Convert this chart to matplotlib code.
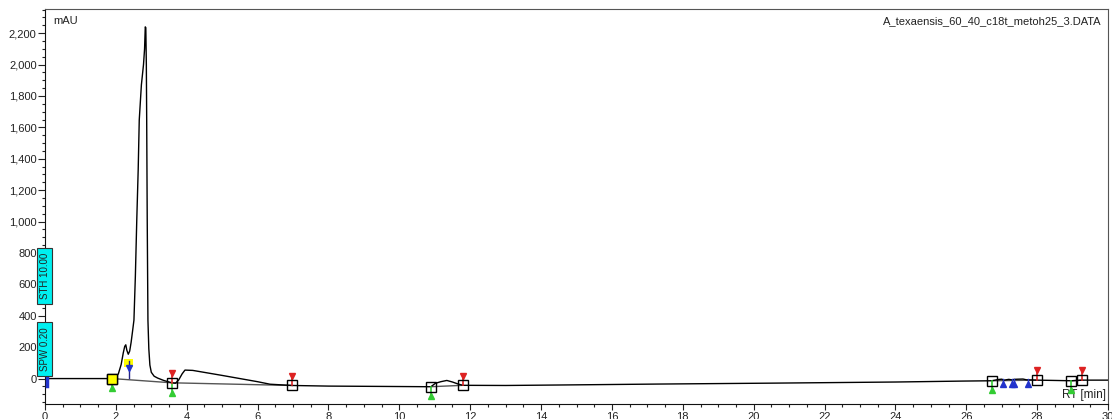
import matplotlib
matplotlib.use("Agg")
import matplotlib.pyplot as plt
from matplotlib.patches import Rectangle
from matplotlib.ticker import MultipleLocator, FuncFormatter

plt.rcParams['font.family'] = ['Liberation Sans', 'DejaVu Sans']

# chromatogram trace (retention time in min, signal in mAU)
rt = [0, 1.0, 1.90, 1.97, 2.07, 2.15, 2.21, 2.25, 2.28, 2.31, 2.35, 2.39, 2.43,
      2.47, 2.51, 2.55, 2.59, 2.63, 2.66, 2.72, 2.78, 2.81, 2.83, 2.845, 2.86,
      2.87, 2.885, 2.905, 2.93, 2.96, 3.0, 3.08, 3.18, 3.35, 3.58, 3.68, 3.77,
      3.87, 3.95, 4.17, 5.0, 6.0, 6.35, 6.98, 8.0, 9.5, 10.89, 11.02, 11.17,
      11.34, 11.5, 11.65, 11.79, 13.0, 14.5, 17.3, 20.6, 24.0, 25.9, 26.72,
      26.9, 27.0, 27.07, 27.2, 27.28, 27.36, 27.45, 27.6, 27.7, 27.85, 27.99,
      28.5, 28.96, 29.15, 29.28, 30.0]
mau = [0, 0, 0, 3, 30, 90, 165, 205, 215, 180, 155, 175, 230,
       300, 372, 650, 1010, 1330, 1647, 1870, 2000, 2100, 2240, 2235, 2000,
       1647, 1010, 372, 190, 86, 40, 15, 3, -12, -27, -30, -10,
       30, 54, 52, 20, -20, -36, -44, -48, -50, -52, -30, -20,
       -12, -22, -34, -43, -44, -41, -35, -29, -22, -16, -14,
       -6, -4, -10, -5, -8, -5, -4, -3, -8, -9, -10,
       -12, -14, -12, -10, -10]

# integration markers
peak_start = [1.90, 3.58, 10.89, 26.72, 28.96]
peak_end = [3.58, 6.98, 11.79, 27.99, 29.28]
node_rt = [1.90, 3.58, 6.98, 10.89, 11.79, 26.72, 27.99, 28.96, 29.28]
node_mau = [0, -27, -44, -52, -43, -14, -10, -14, -10]
apex_rt = [27.05, 27.28, 27.34, 27.75]
apex_mau = [-33, -33, -33, -33]

# event labels on the y axis
events = ["STH 10.00", "SPW 0.20"]
event_span = [(474, 831), (18, 362)]


def node(t):
    return node_mau[node_rt.index(t)]


fig = plt.figure(figsize=(11.12, 4.19), dpi=100)
ax = fig.add_axes([45 / 1112, 15 / 419, 1063 / 1112, 394.7 / 419])

ax.plot(rt, mau, color='black', lw=1.0, zorder=3)

# baselines under the integrated peaks
for s, e in zip(peak_start, peak_end):
    ax.plot([s, e], [node(s), node(e)], color='#555555', lw=1.0, zorder=2)

# start (green) and end (red) flags
off = 62
for t in peak_start:
    v = node(t)
    ax.plot([t, t], [v, v - off], color='#33cc33', lw=1.2, zorder=4)
    ax.plot(t, v - off, marker='^', ms=4.5, color='#33cc33', zorder=4)
for t in peak_end:
    v = node(t)
    ax.plot([t, t], [v, v + off], color='#dd2222', lw=1.2, zorder=4)
    ax.plot(t, v + off, marker='v', ms=4.5, color='#dd2222', zorder=4)

# apex marks
for t, v in zip(apex_rt, apex_mau):
    ax.plot([t, t], [v, v + 30], color='#2233cc', lw=1.0, zorder=4)
    ax.plot(t, v, marker='^', ms=4.5, color='#2233cc', zorder=4)

# highlighted apex of the first peak
ax.add_patch(Rectangle((2.24, 75), 0.25, 50, facecolor='#ffff00', edgecolor='none', zorder=4))
ax.plot([2.36, 2.36], [110, 5], color='#222288', lw=1.0, zorder=4)
ax.plot(2.36, 70, marker='v', ms=4.5, color='#2233cc', zorder=5)

# blue flag at injection
ax.plot([0.05, 0.05], [10, -50], color='#2233cc', lw=2.5, zorder=4, clip_on=False)

ax.plot(node_rt, node_mau, ls='none', marker='s', ms=6.5, mfc='none', mec='black', mew=1.0, zorder=5)
ax.plot(1.90, 0, ls='none', marker='s', ms=6.5, mfc='#ffff00', mec='black', mew=1.0, zorder=6)

for txt, (lo, hi) in zip(events, event_span):
    ax.add_patch(Rectangle((-0.226, lo), 0.424, hi - lo, facecolor='#00f0f0', edgecolor='#333333',
                           lw=0.8, clip_on=False, zorder=6))
    ax.text(-0.014, (lo + hi) / 2, txt, rotation=90, ha='center', va='center', fontsize=7,
            color='#222222', zorder=7, clip_on=False)

ax.set_xlim(0, 30)
ax.set_ylim(-162, 2352)
ax.xaxis.set_major_locator(MultipleLocator(2))
ax.xaxis.set_minor_locator(MultipleLocator(0.5))
ax.yaxis.set_major_locator(MultipleLocator(200))
ax.yaxis.set_minor_locator(MultipleLocator(50))
ax.yaxis.set_major_formatter(FuncFormatter(lambda v, p: f'{int(v):,}'))
ax.tick_params(which='major', direction='out', length=4, width=0.8, labelsize=8, pad=2, colors='#222222')
ax.tick_params(which='minor', direction='out', length=2.5, width=0.8, colors='#222222')
ax.tick_params(axis='y', which='major', length=5, pad=1)
for side in ['left', 'bottom']:
    ax.spines[side].set_color('#111111')
for side in ['top', 'right']:
    ax.spines[side].set_color('#555555')

ax.text(0.0075, 0.97, 'mAU', transform=ax.transAxes, fontsize=8, ha='left', va='center', color='#222222')
ax.text(0.994, 0.97, 'A_texaensis_60_40_c18t_metoh25_3.DATA', transform=ax.transAxes, fontsize=8,
        ha='right', va='center', color='#222222')
ax.text(0.998, 0.023, 'RT [min]', transform=ax.transAxes, fontsize=8.5, ha='right', va='center',
        color='#222222')

fig.savefig('out.png', dpi=100)
